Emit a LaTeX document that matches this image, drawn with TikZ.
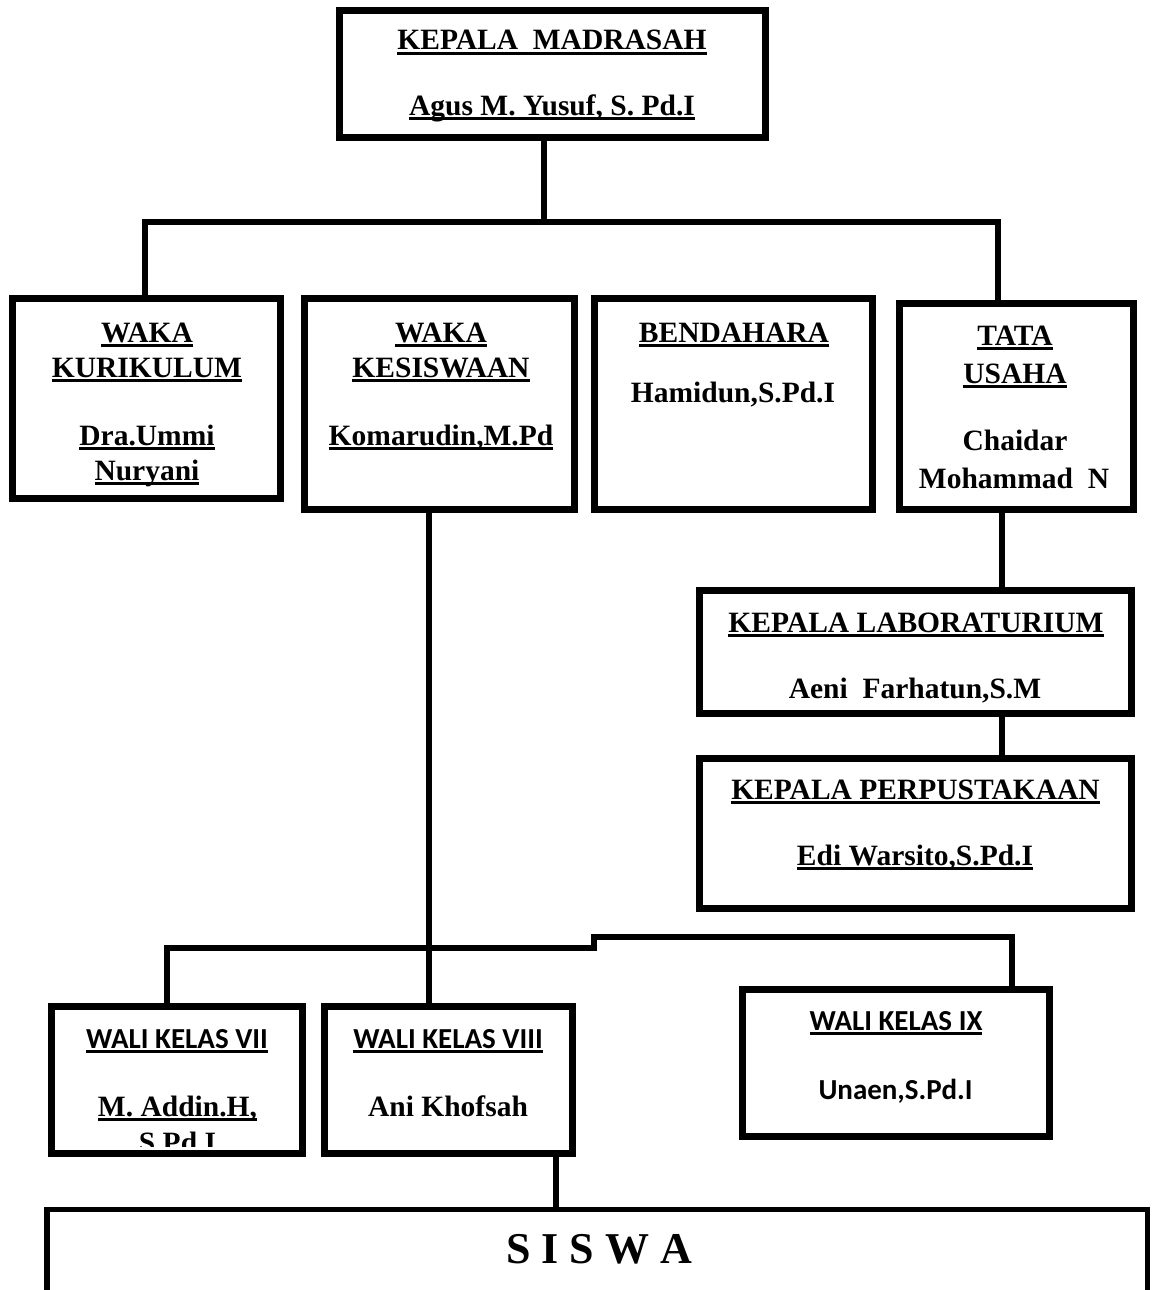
\documentclass[tikz,border=0pt]{standalone}
\usepackage{fontspec}
\setmainfont{Liberation Serif}
\newfontfamily\calibfont{Carlito}

\newsavebox{\ulsave}
\newcommand{\uln}[1]{\sbox\ulsave{#1}\rlap{\rule[-5pt]{\wd\ulsave}{2.8pt}}\usebox\ulsave}

\tikzset{
  box/.style={draw, line width=7pt, inner sep=0pt},
  link/.style={line width=6.5pt},
  thinlink/.style={line width=5.5pt},
  txt/.style={anchor=base, inner sep=0pt, font=\fontsize{29.5}{35}\selectfont\bfseries},
  wtxt/.style={txt, font=\calibfont\fontsize{29}{35}\selectfont\bfseries},
}

\begin{document}
\begin{tikzpicture}[x=1pt, y=-1pt]
    \useasboundingbox (0,0) rectangle (1152,1290);

    % boxes
    \node[box, minimum width=426pt, minimum height=127pt] (kepala) at (552.5,74) {};
    \node[box, minimum width=268pt, minimum height=200pt] (wkur) at (146.5,398.5) {};
    \node[box, minimum width=270pt, minimum height=211pt] (wkes) at (439.5,404) {};
    \node[box, minimum width=278pt, minimum height=211pt] (bend) at (733.5,404) {};
    \node[box, minimum width=234pt, minimum height=206pt] (tata) at (1016.5,406.5) {};
    \node[box, minimum width=432pt, minimum height=123pt] (lab) at (915.5,652) {};
    \node[box, minimum width=432pt, minimum height=150pt] (perp) at (915.5,833.5) {};
    \node[box, minimum width=251pt, minimum height=147pt] (wali7) at (177,1080) {};
    \node[box, minimum width=248pt, minimum height=147pt] (wali8) at (448.5,1080) {};
    \node[box, minimum width=307pt, minimum height=147pt] (wali9) at (896,1063) {};
    \node[box, line width=5.5pt, minimum width=1100.5pt, minimum height=188pt] (siswa) at (597,1303.5) {};

    % texts
    \node[txt] (kepalaT) at (552,50) {\uln{KEPALA\ \ MADRASAH}};
    \node[txt] (kepalaN) at (552,115) {\uln{Agus M. Yusuf, S. Pd.I}};

    \node[txt] (wkurT1) at (147,342) {\uln{WAKA}};
    \node[txt] (wkurT2) at (147,377) {\uln{KURIKULUM}};
    \node[txt] (wkurN1) at (147,445) {\uln{Dra.Ummi}};
    \node[txt] (wkurN2) at (147,480) {\uln{Nuryani}};

    \node[txt] (wkesT1) at (441,342) {\uln{WAKA}};
    \node[txt] (wkesT2) at (441,377) {\uln{KESISWAAN}};
    \node[txt] (wkesN) at (441,445) {\uln{Komarudin,M.Pd}};

    \node[txt] (bendT) at (734,342) {\uln{BENDAHARA}};
    \node[txt] (bendN) at (733,402) {Hamidun,S.Pd.I};

    \node[txt] (tataT1) at (1015,345) {\uln{TATA}};
    \node[txt] (tataT2) at (1015,383) {\uln{USAHA}};
    \node[txt] (tataN1) at (1015,450) {Chaidar};
    \node[txt] (tataN2) at (1014,488) {Mohammad\ \ N};

    \node[txt] (labT) at (916,632) {\uln{KEPALA LABORATURIUM}};
    \node[txt] (labN) at (915,698) {Aeni\ \ Farhatun,S.M};

    \node[txt] (perpT) at (915.5,799) {\uln{KEPALA PERPUSTAKAAN}};
    \node[txt] (perpN) at (915,865) {\uln{Edi Warsito,S.Pd.I}};

    \node[wtxt] (wali7T) at (177,1048) {\uln{WALI KELAS VII}};
    \node[txt] (wali7N) at (177.5,1116) {\uln{M. Addin.H,}};
    \begin{scope}
        \clip ([shift={(4,-11)}]wali7.south west) rectangle ([shift={(-4,4)}]wali7.north east);
        \node[txt] (wali7N2) at (177.5,1152) {\uln{S.Pd.I}};
    \end{scope}

    \node[wtxt] (wali8T) at (448,1048) {\uln{WALI KELAS VIII}};
    \node[txt] (wali8N) at (448,1116) {Ani Khofsah};

    \node[wtxt] (wali9T) at (896,1030) {\uln{WALI KELAS IX}};
    \node[wtxt] (wali9N) at (895.5,1099) {Unaen,S.Pd.I};

    \node[txt, font=\fontsize{44}{50}\selectfont\bfseries] (siswaT) at (599,1263) {S I S W A};

    % connectors
    \coordinate (hubT) at (544,222);
    \coordinate (busTL) at (145,222);
    \coordinate (busTR) at (998,222);
    \draw[link] (kepala.south -| hubT) -- (hubT);
    \draw[link] (wkur.north -| busTL) -- (busTL) -- (busTR) -- (tata.north -| busTR);

    \coordinate (rcol) at (1002,0);
    \draw[link] (tata.south -| rcol) -- (lab.north -| rcol);
    \draw[link] (lab.south -| rcol) -- (perp.north -| rcol);

    \coordinate (midc) at (429,0);
    \draw[thinlink] (wkes.south -| midc) -- (wali8.north -| midc);

    \coordinate (busBL) at (167,948);
    \coordinate (jogA) at (594,948);
    \coordinate (jogB) at (594,937);
    \coordinate (busBR) at (1012,937);
    \draw[thinlink] (wali7.north -| busBL) -- (busBL) -- (jogA) -- (jogB) -- (busBR) -- (wali9.north -| busBR);

    \coordinate (sc) at (556,0);
    \draw[link] (wali8.south -| sc) -- (siswa.north -| sc);

\end{tikzpicture}
\end{document}
